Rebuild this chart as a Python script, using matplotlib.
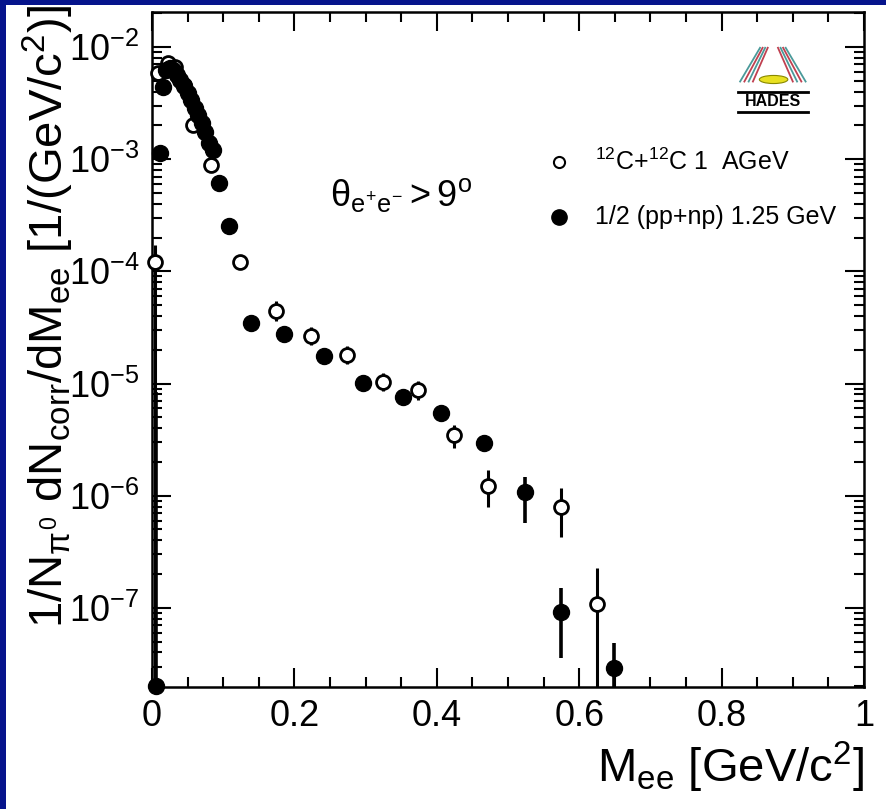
import numpy as np
import matplotlib.pyplot as plt
from matplotlib.patches import Rectangle, Ellipse
from matplotlib.ticker import MultipleLocator, FixedLocator, FixedFormatter, LogFormatterSciNotation

plt.rcParams['font.family'] = ['Liberation Sans', 'DejaVu Sans']
plt.rcParams['mathtext.fontset'] = 'custom'
plt.rcParams['mathtext.rm'] = 'Liberation Sans'
plt.rcParams['mathtext.it'] = 'Liberation Sans'
plt.rcParams['mathtext.bf'] = 'Liberation Sans:bold'

# 12C+12C 1 AGeV (open circles): x, y, lower / upper end of error bar
cc_x = [0.004, 0.008, 0.022, 0.033, 0.045, 0.058, 0.083, 0.123, 0.174, 0.223,
        0.274, 0.324, 0.374, 0.424, 0.472, 0.574, 0.625]
cc_y = [1.21e-4, 5.9e-3, 7.2e-3, 6.6e-3, 4.6e-3, 2.0e-3, 8.85e-4, 1.21e-4, 4.42e-5, 2.65e-5,
        1.80e-5, 1.03e-5, 8.77e-6, 3.48e-6, 1.22e-6, 7.96e-7, 1.09e-7]
cc_lo = [1e-9, 5.9e-3, 7.2e-3, 6.6e-3, 4.6e-3, 2.0e-3, 8.85e-4, 1.05e-4, 3.6e-5, 2.2e-5,
         1.5e-5, 8.5e-6, 7.2e-6, 2.67e-6, 7.96e-7, 4.3e-7, 1e-9]
cc_hi = [1.71e-4, 5.9e-3, 7.2e-3, 6.6e-3, 4.6e-3, 2.0e-3, 8.85e-4, 1.38e-4, 5.4e-5, 3.2e-5,
         2.15e-5, 1.25e-5, 1.06e-5, 4.27e-6, 1.70e-6, 1.17e-6, 2.28e-7]

# 1/2 (pp+np) 1.25 GeV (filled circles)
pp_x = [0.005, 0.011, 0.016, 0.020, 0.025, 0.030, 0.035, 0.040, 0.045, 0.050,
        0.055, 0.060, 0.065, 0.070, 0.075, 0.080, 0.085, 0.094, 0.108, 0.139,
        0.185, 0.242, 0.296, 0.352, 0.406, 0.466, 0.524, 0.574, 0.649]
pp_y = [2.0e-8, 1.13e-3, 4.37e-3, 6.2e-3, 6.45e-3, 6.2e-3, 5.6e-3, 5.05e-3, 4.47e-3, 3.87e-3,
        3.35e-3, 2.84e-3, 2.46e-3, 2.09e-3, 1.74e-3, 1.39e-3, 1.2e-3, 6.1e-4, 2.53e-4, 3.47e-5,
        2.77e-5, 1.76e-5, 1.01e-5, 7.63e-6, 5.47e-6, 2.96e-6, 1.08e-6, 9.25e-8, 2.88e-8]
pp_lo = list(pp_y)
pp_hi = list(pp_y)
pp_lo[0], pp_hi[0] = 1e-9, 8.4e-6
pp_lo[-3], pp_hi[-3] = 5.74e-7, 1.47e-6
pp_lo[-2], pp_hi[-2] = 3.6e-8, 1.51e-7
pp_lo[-1], pp_hi[-1] = 1e-9, 4.9e-8

x_ticks = [0, 0.2, 0.4, 0.6, 0.8, 1.0]
x_ticklabels = ['0', '0.2', '0.4', '0.6', '0.8', '1']
y_ticks = [1e-7, 1e-6, 1e-5, 1e-4, 1e-3, 1e-2]
labels = [r'$^{12}$C+$^{12}$C 1  AGeV', '1/2 (pp+np) 1.25 GeV']

fig = plt.figure(figsize=(8.86, 8.09), dpi=100)
fig.patch.set_facecolor('white')
ax = fig.add_axes([152/886, 1 - 687/809, 712/886, 675/809])

cc_x = np.array(cc_x); cc_y = np.array(cc_y)
pp_x = np.array(pp_x); pp_y = np.array(pp_y)
cc_err = [cc_y - np.array(cc_lo), np.array(cc_hi) - cc_y]
pp_err = [pp_y - np.array(pp_lo), np.array(pp_hi) - pp_y]

ax.errorbar(cc_x, cc_y, yerr=cc_err, fmt='none', ecolor='black', elinewidth=2.2, capsize=0)
ax.errorbar(pp_x, pp_y, yerr=pp_err, fmt='none', ecolor='black', elinewidth=2.6, capsize=0)
ax.plot(cc_x, cc_y, 'o', ms=10, mfc='white', mec='black', mew=2.0, ls='none', clip_on=False, zorder=3)
ax.plot(pp_x, pp_y, 'o', ms=11.5, mfc='black', mec='black', ls='none', clip_on=False, zorder=4)

ax.set_yscale('log')
ax.set_xlim(0, 1)
ax.set_ylim(1.97e-8, 2.05e-2)

ax.xaxis.set_major_locator(FixedLocator(x_ticks))
ax.xaxis.set_major_formatter(FixedFormatter(x_ticklabels))
ax.xaxis.set_minor_locator(MultipleLocator(0.05))
ax.yaxis.set_major_locator(FixedLocator(y_ticks))
ax.yaxis.set_major_formatter(LogFormatterSciNotation())
minor_y = [m * d for d in [1e-8] + y_ticks for m in range(2, 10) if m * d < 2.05e-2 and m * d > 1.97e-8]
ax.yaxis.set_minor_locator(FixedLocator(minor_y))
ax.tick_params(which='both', direction='in', top=True, right=True, width=1.5)
ax.tick_params(which='major', length=14, labelsize=26)
ax.tick_params(which='minor', length=7)
ax.tick_params(axis='x', which='major', pad=9)
ax.tick_params(axis='y', which='major', pad=9)
for s in ax.spines.values():
    s.set_linewidth(1.8)

ax.set_xlabel(r'M$_{ee}$ [GeV/c$^{2}$]', fontsize=34, loc='right', labelpad=4)
fig.text(48/886, 1 - 5/809, r'1/N$_{\pi^{0}}$ dN$_{corr}$/dM$_{ee}$ [1/(GeV/c$^{2}$)]',
         rotation=90, ha='center', va='top', fontsize=34)

ax.text(0.25, 0.729, r'$\theta_{e^{+}e^{-}} > 9^{o}$', transform=ax.transAxes,
        fontsize=26, va='center', ha='left')

# legend
ax.plot([0.572], [0.778], 'o', ms=8, mfc='white', mec='black', mew=1.5, transform=ax.transAxes)
ax.plot([0.572], [0.696], 'o', ms=11, mfc='black', mec='black', transform=ax.transAxes)
ax.text(0.622, 0.778, labels[0], transform=ax.transAxes, fontsize=18, va='center', ha='left')
ax.text(0.622, 0.696, labels[1], transform=ax.transAxes, fontsize=18, va='center', ha='left')

# HADES logo
ax.text(0.872, 0.867, 'HADES', transform=ax.transAxes, fontsize=11.5, fontweight='bold',
        ha='center', va='center')
for yy in (0.882, 0.852):
    ax.plot([0.823, 0.921], [yy, yy], color='black', lw=2, transform=ax.transAxes)
for i in range(4):
    dx = i * 0.006
    col = '#4a9a9a' if i % 2 == 0 else '#c04050'
    ax.plot([0.826 + dx, 0.854 + dx * 0.6], [0.897, 0.947], color=col, lw=1.3, transform=ax.transAxes)
    ax.plot([0.918 - dx, 0.890 - dx * 0.6], [0.897, 0.947], color=col, lw=1.3, transform=ax.transAxes)
ax.add_patch(Ellipse((0.873, 0.900), 0.04, 0.012, transform=ax.transAxes,
                     facecolor='#e8e020', edgecolor='#888800', lw=0.8))

# blue frame of the slide
fig.patches.append(Rectangle((0, 0), 6/886, 1, transform=fig.transFigure,
                             facecolor='#06148c', edgecolor='none'))
fig.patches.append(Rectangle((0, 1 - 5/809), 1, 5/809, transform=fig.transFigure,
                             facecolor='#06148c', edgecolor='none'))

fig.savefig('out.png', dpi=100)
